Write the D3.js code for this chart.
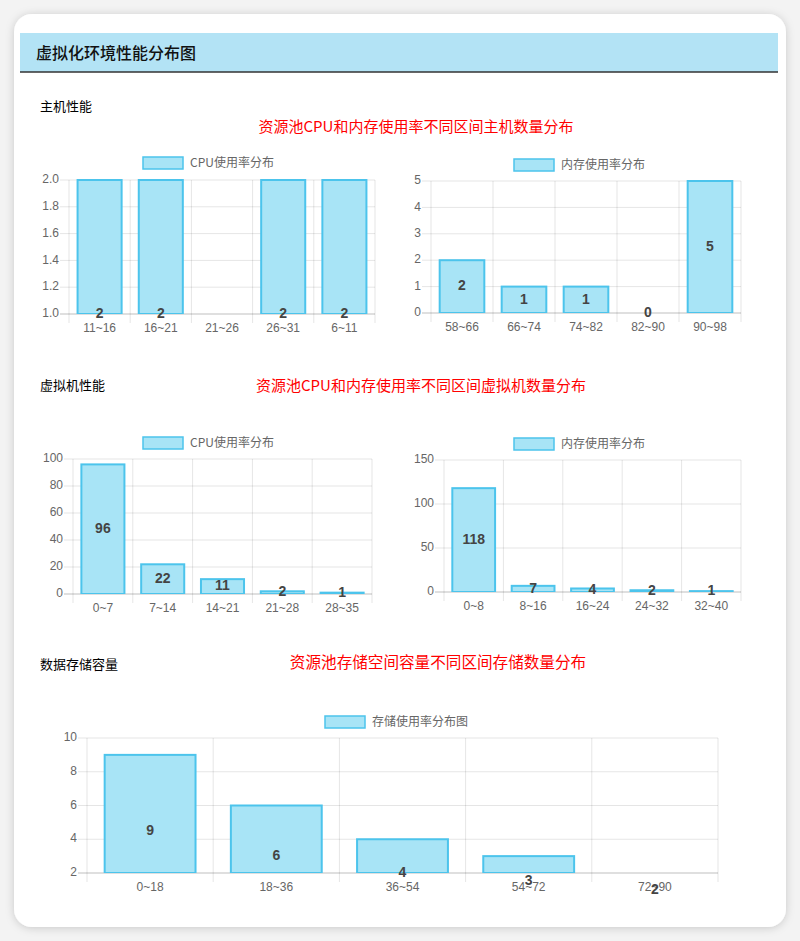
<!DOCTYPE html>
<html>
<head>
<meta charset="utf-8">
<script src="https://cdn.jsdelivr.net/npm/d3@7"></script>
<style>
  html, body { margin: 0; padding: 0; background: #f3f3f3; }
  svg { display: block; font-family: "Liberation Sans", Arial, "Noto Sans CJK SC", sans-serif; }
</style>
</head>
<body>
<svg id="page" width="800" height="941"></svg>
<script>
// ---- data ----
const hostCpuLabels = ["11~16", "16~21", "21~26", "26~31", "6~11"];
const hostCpuValues = [2, 2, null, 2, 2];
const hostCpuTicks = [1.0, 1.2, 1.4, 1.6, 1.8, 2.0];

const hostMemLabels = ["58~66", "66~74", "74~82", "82~90", "90~98"];
const hostMemValues = [2, 1, 1, 0, 5];
const hostMemTicks = [0, 1, 2, 3, 4, 5];

const vmCpuLabels = ["0~7", "7~14", "14~21", "21~28", "28~35"];
const vmCpuValues = [96, 22, 11, 2, 1];
const vmCpuTicks = [0, 20, 40, 60, 80, 100];

const vmMemLabels = ["0~8", "8~16", "16~24", "24~32", "32~40"];
const vmMemValues = [118, 7, 4, 2, 1];
const vmMemTicks = [0, 50, 100, 150];

const storageLabels = ["0~18", "18~36", "36~54", "54~72", "72~90"];
const storageValues = [9, 6, 4, 3, 2];
const storageTicks = [2, 4, 6, 8, 10];

const svg = d3.select("#page");
const cjk = "'Noto Sans CJK SC', 'Liberation Sans', sans-serif";

// card + shadow
const defs = svg.append("defs");
const sh = defs.append("filter").attr("id", "shadow")
    .attr("x", "-5%").attr("y", "-5%").attr("width", "110%").attr("height", "110%");
sh.append("feDropShadow").attr("dx", 0).attr("dy", 1).attr("stdDeviation", 4)
    .attr("flood-color", "#000").attr("flood-opacity", 0.18);

svg.append("rect")
    .attr("x", 14).attr("y", 14).attr("width", 772).attr("height", 913)
    .attr("rx", 18).attr("fill", "#fff").attr("filter", "url(#shadow)");

// header band
svg.append("rect").attr("x", 20).attr("y", 33).attr("width", 758).attr("height", 39)
    .attr("fill", "#b3e3f5");
svg.append("line").attr("x1", 20).attr("x2", 778).attr("y1", 72).attr("y2", 72)
    .attr("stroke", "#333").attr("stroke-width", 1.5);
svg.append("text").attr("x", 36).attr("y", 55).attr("dominant-baseline", "middle")
    .style("font-family", cjk).style("font-size", "16px").style("font-weight", 500)
    .attr("fill", "#111").text("虚拟化环境性能分布图");

// section labels and red titles
const sections = [
    { label: "主机性能", y: 107, title: "资源池CPU和内存使用率不同区间主机数量分布", tx: 416, ty: 128, fs: 15 },
    { label: "虚拟机性能", y: 386, title: "资源池CPU和内存使用率不同区间虚拟机数量分布", tx: 421, ty: 387, fs: 15 },
    { label: "数据存储容量", y: 665, title: "资源池存储空间容量不同区间存储数量分布", tx: 438, ty: 664, fs: 15.6 }
];
sections.forEach(s => {
    svg.append("text").attr("x", 40).attr("y", s.y).attr("dominant-baseline", "middle")
        .style("font-family", cjk).style("font-size", "13px").style("font-weight", 400)
        .attr("fill", "#000").text(s.label);
    svg.append("text").attr("x", s.tx).attr("y", s.ty).attr("dominant-baseline", "middle")
        .attr("text-anchor", "middle")
        .style("font-family", cjk).style("font-size", s.fs + "px").attr("fill", "#ff0000").text(s.title);
});

// ---- bar chart helper (Chart.js-like look) ----
let clipId = 0;
const drawBars = (cfg) => {
    const { labels, values, ticks, domain, left, right, top, bottom, legend, legendX, legendY, fmt } = cfg;
    const g = svg.append("g");

    const x = d3.scaleBand().domain(labels).range([left, right])
        .paddingInner(0.28).paddingOuter(0.14);
    const step = x.step();
    const y = d3.scaleLinear().domain(domain).range([bottom, top]);

    // legend
    g.append("rect").attr("x", legendX).attr("y", legendY).attr("width", 40).attr("height", 12)
        .attr("fill", "#a8e4f6").attr("stroke", "#4cc4ec").attr("stroke-width", 1.5);
    g.append("text").attr("x", legendX + 47).attr("y", legendY + 6.5)
        .attr("dominant-baseline", "middle")
        .style("font-family", cjk).style("font-size", "12px").attr("fill", "#666").text(legend);

    // horizontal grid lines + y tick labels
    ticks.forEach(t => {
        g.append("line").attr("x1", left - 9).attr("x2", right)
            .attr("y1", y(t)).attr("y2", y(t))
            .attr("stroke", t === domain[0] ? "rgba(0,0,0,0.25)" : "rgba(0,0,0,0.1)");
        g.append("text").attr("x", left - 10).attr("y", y(t))
            .attr("text-anchor", "end").attr("dominant-baseline", "middle")
            .style("font-size", "12px").attr("fill", "#666").text(fmt ? fmt(t) : t);
    });

    // vertical grid lines at category boundaries
    d3.range(labels.length + 1).forEach(i => {
        const gx = left + i * step;
        g.append("line").attr("x1", gx).attr("x2", gx).attr("y1", top).attr("y2", bottom + 9)
            .attr("stroke", "rgba(0,0,0,0.1)");
    });

    // x labels
    labels.forEach(l => {
        g.append("text").attr("x", x(l) + x.bandwidth() / 2).attr("y", bottom + 15)
            .attr("text-anchor", "middle").attr("dominant-baseline", "middle")
            .style("font-size", "12px").attr("fill", "#666").text(l);
    });

    // bars, clipped to plot area
    const id = "clip" + (clipId++);
    defs.append("clipPath").attr("id", id).append("rect")
        .attr("x", left).attr("y", top - 1).attr("width", right - left).attr("height", bottom - top + 1);

    const data = labels.map((l, i) => ({ label: l, value: values[i] })).filter(d => d.value !== null);

    g.append("g").attr("clip-path", `url(#${id})`)
        .selectAll("rect").data(data).join("rect")
        .attr("x", d => x(d.label))
        .attr("width", x.bandwidth())
        .attr("y", d => y(d.value))
        .attr("height", d => Math.max(0, y(domain[0]) - y(d.value)))
        .attr("fill", "#a8e4f6")
        .attr("stroke", "#4cc4ec")
        .attr("stroke-width", 2);

    // value labels at half value (like the datalabels plugin)
    g.append("g").selectAll("text").data(data).join("text")
        .attr("x", d => x(d.label) + x.bandwidth() / 2)
        .attr("y", d => y(d.value / 2))
        .attr("text-anchor", "middle").attr("dominant-baseline", "middle")
        .style("font-size", "14px").style("font-weight", "bold")
        .attr("fill", "#444").text(d => d.value);
};

drawBars({ labels: hostCpuLabels, values: hostCpuValues, ticks: hostCpuTicks, domain: [1, 2],
    left: 69, right: 375, top: 180, bottom: 314, legend: "CPU使用率分布", legendX: 143, legendY: 157,
    fmt: d3.format(".1f") });
drawBars({ labels: hostMemLabels, values: hostMemValues, ticks: hostMemTicks, domain: [0, 5],
    left: 431, right: 741, top: 181, bottom: 313, legend: "内存使用率分布", legendX: 514, legendY: 159 });
drawBars({ labels: vmCpuLabels, values: vmCpuValues, ticks: vmCpuTicks, domain: [0, 100],
    left: 73, right: 372, top: 459, bottom: 594, legend: "CPU使用率分布", legendX: 143, legendY: 437 });
drawBars({ labels: vmMemLabels, values: vmMemValues, ticks: vmMemTicks, domain: [0, 150],
    left: 444, right: 741, top: 460, bottom: 592, legend: "内存使用率分布", legendX: 514, legendY: 438 });
drawBars({ labels: storageLabels, values: storageValues, ticks: storageTicks, domain: [2, 10],
    left: 87, right: 718, top: 738, bottom: 873, legend: "存储使用率分布图", legendX: 325, legendY: 716 });
</script>
</body>
</html>
